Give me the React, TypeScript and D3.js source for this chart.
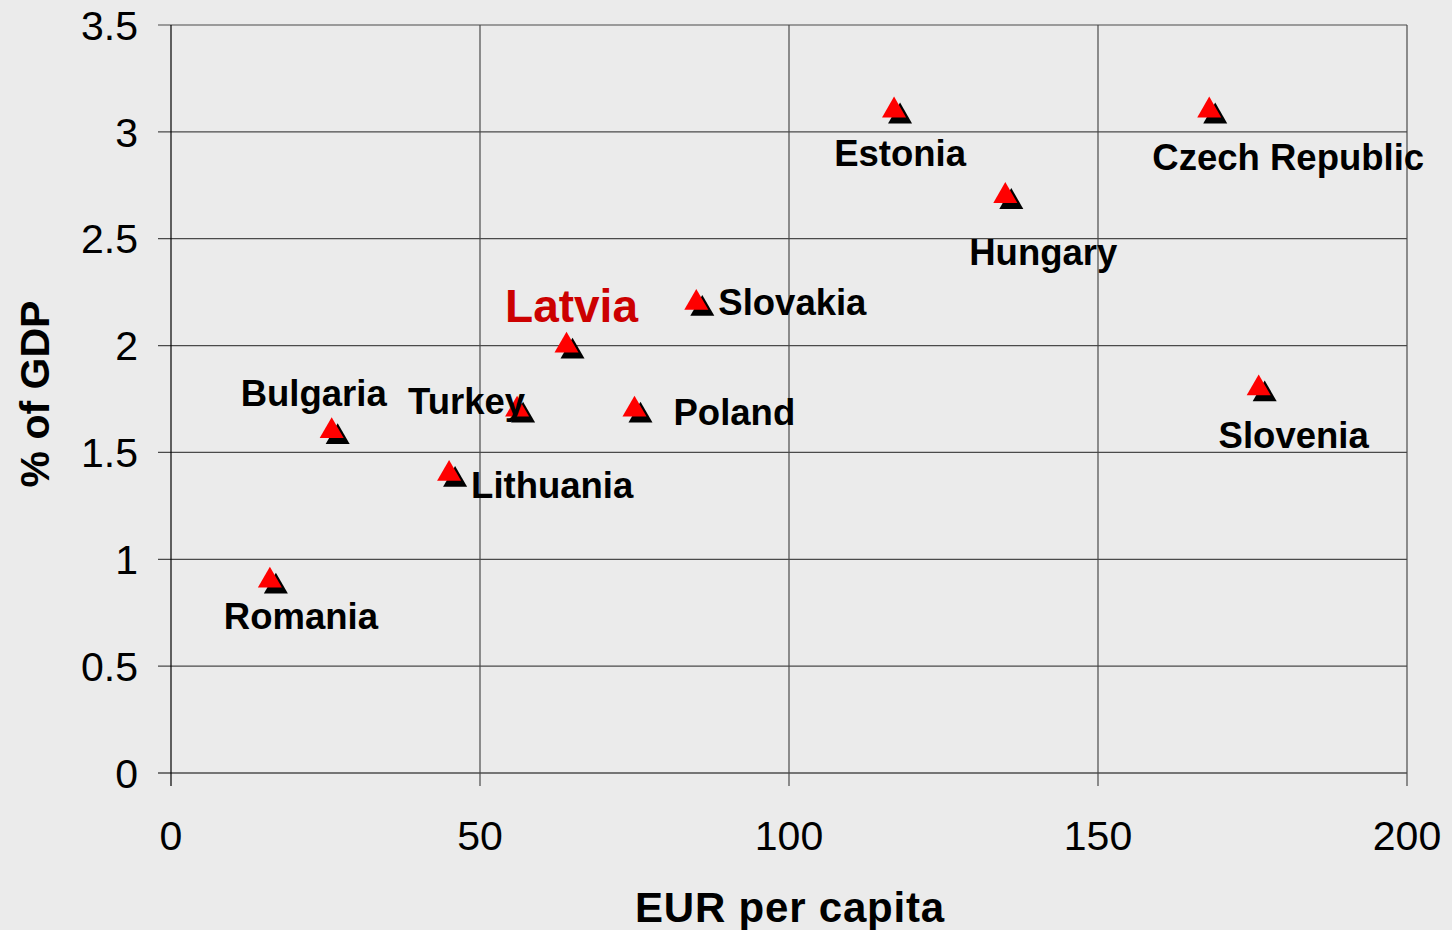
import React from "react";
import * as d3 from "d3";

// values
const countries = ["Romania", "Bulgaria", "Lithuania", "Turkey", "Latvia", "Poland", "Slovakia", "Estonia", "Hungary", "Czech Republic", "Slovenia"];
const eurPerCapita = [16, 26, 45, 56, 64, 75, 85, 117, 135, 168, 176];
const pctOfGdp = [0.9, 1.6, 1.4, 1.7, 2.0, 1.7, 2.2, 3.1, 2.7, 3.1, 1.8];
const xTicks = [0, 50, 100, 150, 200];
const yTicks = [0, 0.5, 1, 1.5, 2, 2.5, 3, 3.5];

// label placement relative to the marker
const labelPos: Record<string, { dx: number; dy: number; anchor: string }> = {
  Romania: { dx: 31, dy: 48, anchor: "middle" },
  Bulgaria: { dx: -18, dy: -25, anchor: "middle" },
  Lithuania: { dx: 22, dy: 24, anchor: "start" },
  Turkey: { dx: 8, dy: 4, anchor: "end" },
  Latvia: { dx: 5, dy: -24, anchor: "middle" },
  Poland: { dx: 39, dy: 15, anchor: "start" },
  Slovakia: { dx: 22, dy: 12, anchor: "start" },
  Estonia: { dx: 6, dy: 56, anchor: "middle" },
  Hungary: { dx: 38, dy: 69, anchor: "middle" },
  "Czech Republic": { dx: 79, dy: 60, anchor: "middle" },
  Slovenia: { dx: 35, dy: 60, anchor: "middle" },
};

const W = 1452;
const H = 930;
const margin = { left: 171, right: 45, top: 25, bottom: 157 };
const font = "Liberation Sans, Arial, sans-serif";

export default function App() {
  const x = d3.scaleLinear().domain([0, 200]).range([margin.left, W - margin.right]);
  const y = d3.scaleLinear().domain([0, 3.5]).range([H - margin.bottom, margin.top]);
  const tri = d3.symbol().type(d3.symbolTriangle).size(250)();

  const points = countries.map((name, i) => ({ name, x: x(eurPerCapita[i]), y: y(pctOfGdp[i]) }));

  return (
    <svg width={W} height={H} style={{ position: "absolute", left: 0, top: 0 }} fontFamily={font}>
      <rect width={W} height={H} fill="#ebebeb" />
      <g strokeWidth={1.2}>
        {yTicks.map((t) => (
          <line key={"gy" + t} x1={x(0) - 13} x2={x(200)} y1={y(t)} y2={y(t)} stroke={t === 0 ? "#000" : "#4a4a4a"} />
        ))}
        {xTicks.map((t) => (
          <line key={"gx" + t} x1={x(t)} x2={x(t)} y1={y(3.5)} y2={y(0) + 13} stroke={t === 0 ? "#000" : "#4a4a4a"} />
        ))}
      </g>
      {yTicks.map((t) => (
        <text key={"ty" + t} x={138} y={y(t)} dy="0.36em" textAnchor="end" fontSize={41} fill="#000">
          {t}
        </text>
      ))}
      {xTicks.map((t) => (
        <text key={"tx" + t} x={x(t)} y={850} textAnchor="middle" fontSize={41} fill="#000">
          {t}
        </text>
      ))}
      <text x={790} y={922} textAnchor="middle" fontSize={42} fontWeight="bold" letterSpacing={0.8} fill="#000">
        EUR per capita
      </text>
      <text transform={`translate(49,${394}) rotate(-90)`} textAnchor="middle" fontSize={41} fontWeight="bold" fill="#000">
        % of GDP
      </text>
      {points.map((p) => (
        <path key={"s" + p.name} d={tri!} transform={`translate(${p.x + 6},${p.y + 6})`} fill="#000" />
      ))}
      {points.map((p) => (
        <path key={"m" + p.name} d={tri!} transform={`translate(${p.x},${p.y})`} fill="#ff0000" />
      ))}
      {points.map((p) => {
        const lp = labelPos[p.name];
        const isLatvia = p.name === "Latvia";
        return (
          <text
            key={"l" + p.name}
            x={p.x + lp.dx}
            y={p.y + lp.dy}
            textAnchor={lp.anchor}
            fontSize={isLatvia ? 46 : 36.5}
            fontWeight="bold"
            fill={isLatvia ? "#cc0000" : "#000"}
          >
            {p.name}
          </text>
        );
      })}
    </svg>
  );
}
